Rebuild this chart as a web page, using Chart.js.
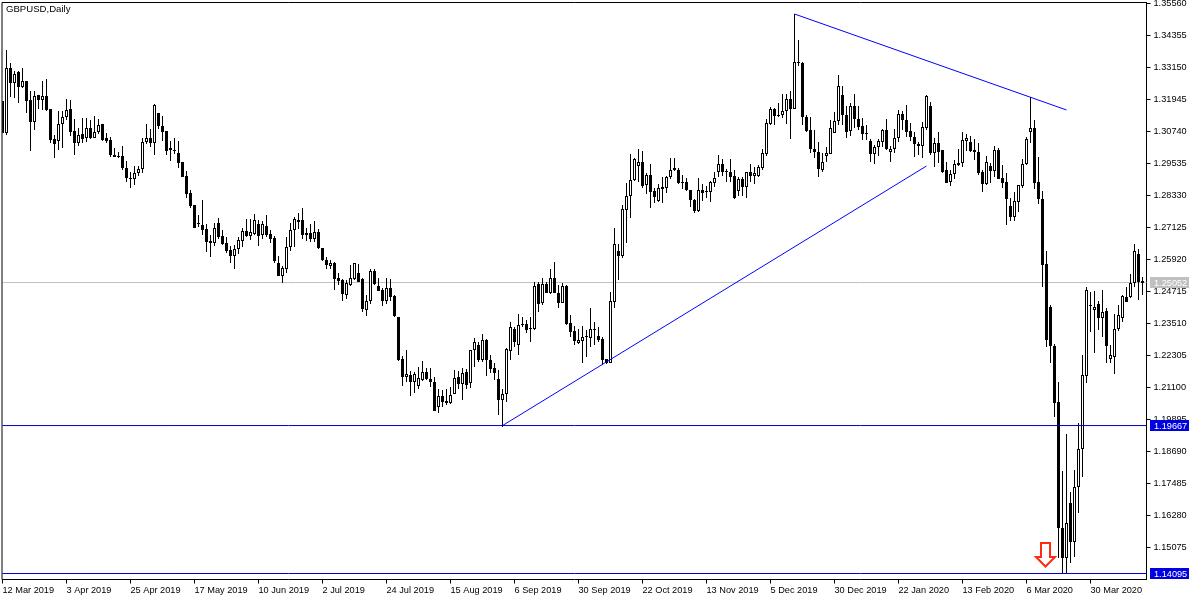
<!DOCTYPE html>
<html><head><meta charset="utf-8">
<style>html,body{margin:0;padding:0;background:#fff}canvas{display:block}</style>
<script src="https://cdn.jsdelivr.net/npm/chart.js@4"></script>
</head><body><canvas id="c" width="1200" height="600"></canvas>
<script>
const chartTitle = "GBPUSD,Daily";
const opens = [
1.3189,1.3069,1.3312,1.3258,1.3298,1.3243,1.3264,1.3192,1.3111,1.3211,
1.3194,1.3207,1.3159,1.3046,1.3037,1.3103,1.3130,1.3159,1.3076,1.3032,
1.3063,1.3051,1.3089,1.3051,1.3071,1.3101,1.3049,1.3042,1.2984,1.2980,
1.2982,1.2935,1.2899,1.2897,1.2916,1.2931,1.3034,1.3049,1.3032,1.3142,
1.3093,1.3076,1.3012,1.3004,1.2993,1.2958,1.2906,1.2842,1.2797,1.2729,
1.2722,1.2705,1.2661,1.2655,1.2729,1.2680,1.2654,1.2628,1.2605,1.2630,
1.2663,1.2699,1.2680,1.2688,1.2724,1.2685,1.2720,1.2688,1.2673,1.2577,
1.2531,1.2555,1.2640,1.2702,1.2732,1.2740,1.2691,1.2691,1.2669,1.2694,
1.2637,1.2592,1.2568,1.2577,1.2524,1.2514,1.2459,1.2497,1.2518,1.2541,
1.2518,1.2403,1.2435,1.2548,1.2492,1.2477,1.2437,1.2484,1.2454,1.2375,
1.2217,1.2150,1.2157,1.2130,1.2117,1.2138,1.2167,1.2142,1.2130,1.2037,
1.2078,1.2059,1.2051,1.2086,1.2149,1.2124,1.2168,1.2128,1.2250,1.2270,
1.2213,1.2288,1.2213,1.2182,1.2142,1.2063,1.2084,1.2248,1.2330,1.2271,
1.2344,1.2351,1.2334,1.2331,1.2499,1.2427,1.2499,1.2467,1.2522,1.2464,
1.2429,1.2492,1.2352,1.2321,1.2278,1.2286,1.2304,1.2296,1.2325,1.2304,
1.2292,1.2216,1.2203,1.2433,1.2624,1.2606,1.2779,1.2830,1.2890,1.2945,
1.2958,1.2872,1.2909,1.2850,1.2812,1.2865,1.2862,1.2901,1.2928,1.2928,
1.2884,1.2882,1.2852,1.2816,1.2773,1.2852,1.2850,1.2848,1.2879,1.2920,
1.2951,1.2925,1.2920,1.2905,1.2851,1.2897,1.2864,1.2920,1.2907,1.2907,
1.2935,1.2990,1.3103,1.3158,1.3138,1.3137,1.3152,1.3195,1.3160,1.3334,
1.3332,1.3128,1.3078,1.3010,1.2995,1.2929,1.2983,1.2990,1.3069,1.3112,
1.3211,1.3136,1.3077,1.3169,1.3120,1.3094,1.3067,1.3039,1.2988,1.3014,
1.3035,1.3079,1.2998,1.3007,1.3048,1.3139,1.3117,1.3075,1.3055,1.3027,
1.3018,1.3086,1.3170,1.2994,1.3031,1.3004,1.2929,1.2884,1.2913,1.2948,
1.2957,1.3040,1.3035,1.3004,1.2997,1.2922,1.2876,1.2944,1.2927,1.3004,
1.2899,1.2883,1.2794,1.2751,1.2810,1.2870,1.2952,1.3073,1.3086,1.2883,
1.2819,1.2575,1.2412,1.2266,1.2054,1.1580,1.1467,1.1674,1.1530,1.1734,
1.1877,1.2155,1.2418,1.2402,1.2425,1.2373,1.2397,1.2218,1.2226,1.2329,
1.2373,1.2450,1.2450,1.2502,1.2613,1.2510];
const highs = [
1.3189,1.3381,1.3333,1.3303,1.3303,1.3314,1.3264,1.3226,1.3226,1.3211,
1.3264,1.3271,1.3159,1.3061,1.3151,1.3151,1.3196,1.3192,1.3121,1.3086,
1.3125,1.3123,1.3117,1.3132,1.3120,1.3101,1.3067,1.3052,1.3012,1.2998,
1.3019,1.2963,1.2923,1.2944,1.2944,1.3048,1.3102,1.3082,1.3177,1.3142,
1.3132,1.3076,1.3038,1.3048,1.3039,1.2960,1.2925,1.2854,1.2797,1.2759,
1.2816,1.2725,1.2684,1.2728,1.2747,1.2703,1.2675,1.2643,1.2646,1.2678,
1.2712,1.2744,1.2744,1.2763,1.2741,1.2736,1.2759,1.2703,1.2680,1.2605,
1.2567,1.2678,1.2728,1.2751,1.2768,1.2785,1.2709,1.2725,1.2737,1.2706,
1.2637,1.2601,1.2592,1.2583,1.2540,1.2517,1.2514,1.2571,1.2577,1.2575,
1.2521,1.2458,1.2558,1.2555,1.2521,1.2483,1.2521,1.2517,1.2458,1.2376,
1.2229,1.2251,1.2173,1.2169,1.2188,1.2209,1.2184,1.2182,1.2148,1.2106,
1.2100,1.2104,1.2113,1.2176,1.2172,1.2182,1.2178,1.2253,1.2296,1.2282,
1.2311,1.2291,1.2232,1.2201,1.2176,1.2106,1.2260,1.2355,1.2339,1.2386,
1.2374,1.2364,1.2374,1.2508,1.2506,1.2521,1.2508,1.2558,1.2581,1.2496,
1.2502,1.2496,1.2383,1.2342,1.2332,1.2342,1.2326,1.2411,1.2358,1.2336,
1.2301,1.2219,1.2468,1.2709,1.2652,1.2799,1.2879,1.2988,1.2973,1.3010,
1.3002,1.2916,1.2951,1.2860,1.2875,1.2904,1.2907,1.2976,1.2973,1.2935,
1.2910,1.2900,1.2852,1.2818,1.2899,1.2876,1.2869,1.2889,1.2920,1.2985,
1.2969,1.2934,1.2970,1.2928,1.2904,1.2904,1.2920,1.2950,1.2941,1.2948,
1.3010,1.3120,1.3167,1.3164,1.3180,1.3214,1.3217,1.3228,1.3516,1.3419,
1.3334,1.3136,1.3130,1.3079,1.3035,1.2992,1.3014,1.3117,1.3148,1.3287,
1.3245,1.3170,1.3180,1.3215,1.3171,1.3123,1.3098,1.3046,1.3023,1.3044,
1.3083,1.3120,1.3019,1.3082,1.3155,1.3151,1.3174,1.3107,1.3073,1.3033,
1.3111,1.3212,1.3184,1.3048,1.3071,1.3004,1.2960,1.2929,1.2967,1.3007,
1.3071,1.3065,1.3057,1.3045,1.3030,1.2929,1.2982,1.2957,1.3019,1.3011,
1.2948,1.2919,1.2822,1.2848,1.2873,1.2971,1.3052,1.3203,1.3117,1.2977,
1.2850,1.2624,1.2421,1.2274,1.2132,1.1796,1.1935,1.1715,1.1800,1.1975,
1.2233,1.2490,1.2471,1.2474,1.2437,1.2477,1.2410,1.2270,1.2387,1.2421,
1.2459,1.2487,1.2537,1.2650,1.2632,1.2527];
const lows = [
1.3067,1.3062,1.3205,1.3202,1.3182,1.3238,1.3145,1.3002,1.3079,1.3159,
1.3155,1.3151,1.3030,1.2975,1.3004,1.3012,1.3117,1.3057,1.2985,1.3020,
1.3029,1.3036,1.3047,1.3048,1.3064,1.3039,1.3029,1.2979,1.2978,1.2973,
1.2928,1.2885,1.2862,1.2872,1.2906,1.2919,1.3027,1.3014,1.2985,1.3082,
1.3038,1.2985,1.2964,1.2989,1.2938,1.2901,1.2822,1.2787,1.2710,1.2713,
1.2685,1.2621,1.2601,1.2643,1.2668,1.2646,1.2618,1.2580,1.2557,1.2613,
1.2640,1.2675,1.2665,1.2684,1.2643,1.2671,1.2675,1.2653,1.2580,1.2530,
1.2505,1.2540,1.2625,1.2640,1.2707,1.2668,1.2663,1.2659,1.2659,1.2630,
1.2586,1.2555,1.2555,1.2477,1.2496,1.2437,1.2444,1.2494,1.2514,1.2507,
1.2395,1.2379,1.2424,1.2497,1.2473,1.2417,1.2424,1.2437,1.2376,1.2209,
1.2117,1.2129,1.2078,1.2090,1.2103,1.2134,1.2138,1.2113,1.2021,1.2015,
1.2037,1.2044,1.2047,1.2085,1.2103,1.2063,1.2106,1.2109,1.2188,1.2207,
1.2207,1.2154,1.2163,1.2138,1.2006,1.1960,1.2056,1.2213,1.2263,1.2232,
1.2339,1.2314,1.2282,1.2326,1.2395,1.2420,1.2464,1.2462,1.2464,1.2410,
1.2427,1.2345,1.2301,1.2271,1.2273,1.2203,1.2223,1.2263,1.2270,1.2282,
1.2194,1.2198,1.2201,1.2408,1.2514,1.2599,1.2655,1.2749,1.2887,1.2882,
1.2860,1.2838,1.2787,1.2803,1.2810,1.2806,1.2843,1.2897,1.2926,1.2875,
1.2857,1.2851,1.2791,1.2768,1.2771,1.2813,1.2822,1.2810,1.2866,1.2904,
1.2907,1.2885,1.2882,1.2821,1.2832,1.2831,1.2825,1.2885,1.2876,1.2901,
1.2929,1.2983,1.3099,1.3099,1.3130,1.3123,1.3102,1.3047,1.3158,1.3322,
1.3098,1.3073,1.2992,1.2976,1.2904,1.2923,1.2958,1.2988,1.3067,1.3098,
1.3098,1.3051,1.3057,1.3086,1.3079,1.3042,1.3042,1.2960,1.2951,1.2982,
1.3014,1.3004,1.2960,1.2992,1.3033,1.3080,1.3055,1.3040,1.2977,1.2986,
1.2976,1.3080,1.2986,1.2942,1.2957,1.2919,1.2879,1.2869,1.2894,1.2944,
1.2942,1.3002,1.2998,1.2967,1.2910,1.2848,1.2873,1.2879,1.2904,1.2894,
1.2860,1.2722,1.2738,1.2738,1.2772,1.2860,1.2949,1.3032,1.2858,1.2801,
1.2490,1.2264,1.2201,1.2000,1.1467,1.1413,1.1410,1.1448,1.1473,1.1639,
1.1774,1.2128,1.2318,1.2241,1.2327,1.2302,1.2204,1.2204,1.2161,1.2324,
1.2358,1.2431,1.2446,1.2490,1.2440,1.2458];
const closes = [
1.3069,1.3312,1.3258,1.3290,1.3243,1.3264,1.3190,1.3111,1.3206,1.3194,
1.3206,1.3155,1.3043,1.3028,1.3101,1.3127,1.3155,1.3073,1.3032,1.3059,
1.3047,1.3086,1.3051,1.3071,1.3097,1.3043,1.3039,1.2985,1.2979,1.2978,
1.2935,1.2900,1.2896,1.2916,1.2931,1.3033,1.3048,1.3032,1.3174,1.3096,
1.3073,1.3002,1.3005,1.3002,1.2956,1.2904,1.2840,1.2795,1.2712,1.2724,
1.2704,1.2659,1.2656,1.2709,1.2678,1.2651,1.2625,1.2605,1.2631,1.2665,
1.2698,1.2680,1.2695,1.2739,1.2682,1.2724,1.2685,1.2670,1.2587,1.2531,
1.2559,1.2638,1.2702,1.2744,1.2739,1.2685,1.2685,1.2669,1.2694,1.2637,
1.2590,1.2572,1.2577,1.2518,1.2511,1.2463,1.2503,1.2521,1.2577,1.2509,
1.2406,1.2436,1.2548,1.2501,1.2474,1.2437,1.2483,1.2452,1.2379,1.2213,
1.2150,1.2159,1.2132,1.2160,1.2144,1.2167,1.2142,1.2132,1.2022,1.2078,
1.2056,1.2051,1.2081,1.2144,1.2124,1.2163,1.2120,1.2250,1.2280,1.2213,
1.2288,1.2213,1.2181,1.2163,1.2064,1.2084,1.2255,1.2336,1.2281,1.2345,
1.2351,1.2327,1.2329,1.2494,1.2425,1.2499,1.2467,1.2521,1.2465,1.2428,
1.2492,1.2350,1.2319,1.2286,1.2287,1.2302,1.2299,1.2329,1.2332,1.2288,
1.2213,1.2203,1.2434,1.2649,1.2605,1.2784,1.2830,1.2890,1.2970,1.2958,
1.2869,1.2912,1.2847,1.2828,1.2860,1.2858,1.2901,1.2928,1.2935,1.2881,
1.2881,1.2855,1.2816,1.2774,1.2852,1.2843,1.2845,1.2882,1.2899,1.2950,
1.2923,1.2920,1.2904,1.2823,1.2897,1.2864,1.2920,1.2907,1.2916,1.2940,
1.2992,1.3105,1.3158,1.3133,1.3133,1.3152,1.3195,1.3160,1.3334,1.3331,
1.3130,1.3077,1.3009,1.2998,1.2934,1.2958,1.2992,1.3086,1.3112,1.3245,
1.3135,1.3073,1.3170,1.3120,1.3092,1.3064,1.3063,1.2988,1.3014,1.3038,
1.3079,1.3008,1.3008,1.3048,1.3140,1.3117,1.3071,1.3055,1.3026,1.3018,
1.3090,1.3209,1.2994,1.3030,1.2998,1.2923,1.2881,1.2914,1.2950,1.2957,
1.3041,1.3048,1.3002,1.2996,1.2919,1.2878,1.2959,1.2927,1.3003,1.2896,
1.2880,1.2821,1.2753,1.2811,1.2871,1.2950,1.3045,1.3086,1.2881,1.2819,
1.2573,1.2290,1.2268,1.2053,1.1580,1.1467,1.1599,1.1530,1.1734,1.1877,
1.2156,1.2477,1.2420,1.2415,1.2373,1.2393,1.2268,1.2231,1.2329,1.2383,
1.2455,1.2433,1.2502,1.2624,1.2509,1.2505];
const dateTicks = ["12 Mar 2019","3 Apr 2019","25 Apr 2019","17 May 2019","10 Jun 2019","2 Jul 2019","24 Jul 2019","15 Aug 2019","6 Sep 2019","30 Sep 2019","22 Oct 2019","13 Nov 2019","5 Dec 2019","30 Dec 2019","22 Jan 2020","13 Feb 2020","6 Mar 2020","30 Mar 2020"];
const barsPerDateTick = 16;
const priceTicks = [1.3556,1.34355,1.3315,1.31945,1.3074,1.29535,1.2833,1.27125,1.2592,1.24715,1.2351,1.22305,1.211,1.19895,1.1869,1.17485,1.1628,1.15075];
const lastPrice = 1.25052;
const supportHigh = 1.19667;
const supportLow = 1.14095;
const trendUpBars = [125,231];
const trendUpPrices = [1.19667,1.29441];
const trendDownBars = [198,266];
const trendDownPrices = [1.35165,1.3155];
const arrowBar = 260.75;
const arrowPrice = 1.1430;
const axisMin = 1.1387;
const axisMax = 1.35598;

const slots = closes.map((_,i)=>i); slots.push(closes.length);
const lastSlot = slots.length-1;
const wicks = lows.map((l,i)=>[l,highs[i]]);
const bodies = opens.map((o,i)=>[o,closes[i]]);
const fills = opens.map((o,i)=>closes[i]>=o?'#ffffff':'#000000');
const FONT = {family:'"Liberation Sans",Arial,sans-serif',size:9.2};
const LINE_BLUE = '#0000d0';

const pinAxis = (w,h)=>scale=>{
  if(w)scale.width=w; if(h)scale.height=h;
  scale.paddingLeft=scale.paddingRight=scale.paddingTop=scale.paddingBottom=0;
};
const line = (xs,ys,color)=>({type:'line',data:xs.map((x,i)=>({x,y:ys[i]})),borderColor:color,borderWidth:1,pointRadius:0,tension:0,order:0,parsing:{xAxisKey:'x',yAxisKey:'y'},spanGaps:true});

const extras = {
  id:'extras',
  afterDatasetsUpdate(chart){
    [0,1].forEach(d=>chart.getDatasetMeta(d).data.forEach(el=>{
      const top=Math.round(Math.min(el.y,el.base)), bot=Math.round(Math.max(el.y,el.base));
      el.y=top; el.base=Math.max(bot,top+1); el.height=el.base-el.y;
    }));
  },
  afterDraw(chart){
    const {ctx,chartArea:a,scales:{x,y}} = chart;
    ctx.save();
    ctx.strokeStyle='#000';ctx.lineWidth=1;
    ctx.beginPath();ctx.moveTo(a.left-0.5,a.bottom);ctx.lineTo(a.left-0.5,a.top);ctx.lineTo(a.right,a.top);ctx.stroke();
    ctx.font=`9.6px ${FONT.family}`;ctx.textBaseline='middle';ctx.textAlign='left';
    ctx.fillStyle='#000';ctx.fillText(chartTitle,6,9.5);
    ctx.font=`${FONT.size}px ${FONT.family}`;
    [[lastPrice,'#c0c0c0'],[supportHigh,'#0000e0'],[supportLow,'#0000e0']].forEach(([p,bg])=>{
      const py=y.getPixelForValue(p);
      ctx.fillStyle=bg;ctx.fillRect(1150,Math.round(py-5.5),39,11);
      ctx.fillStyle='#fff';ctx.fillText(p.toFixed(5),1154,py+0.5);
    });
    const tx=x.getPixelForValue(arrowBar), ty=y.getPixelForValue(arrowPrice);
    ctx.strokeStyle='#ff2a10';ctx.lineWidth=2;ctx.fillStyle='#fff';ctx.lineJoin='miter';
    ctx.beginPath();
    ctx.moveTo(tx,ty-1.5);ctx.lineTo(tx+9.5,ty-11);ctx.lineTo(tx+4.5,ty-11);ctx.lineTo(tx+4.5,ty-25);
    ctx.lineTo(tx-4.5,ty-25);ctx.lineTo(tx-4.5,ty-11);ctx.lineTo(tx-9.5,ty-11);ctx.closePath();
    ctx.fill();ctx.stroke();
    ctx.restore();
  }
};

new Chart(document.getElementById('c'),{
  type:'bar',
  data:{labels:slots,datasets:[
    {label:'body',data:bodies,backgroundColor:fills,borderColor:'#000',borderWidth:1,borderSkipped:false,barThickness:3,grouped:false,order:1,inflateAmount:0},
    {label:'wick',data:wicks,backgroundColor:'#000',borderWidth:0,barThickness:1,grouped:false,order:2,inflateAmount:0},
    Object.assign(line([0,lastSlot],[lastPrice,lastPrice],'#c0c0c0'),{order:3}),
    line([0,lastSlot],[supportHigh,supportHigh],LINE_BLUE),
    line([0,lastSlot],[supportLow,supportLow],LINE_BLUE),
    line(trendUpBars,trendUpPrices,'#0000ff'),
    line(trendDownBars,trendDownPrices,'#0000ff')
  ]},
  plugins:[extras],
  options:{
    responsive:false,animation:false,devicePixelRatio:1,
    layout:{padding:{left:2.5,top:2.5,right:0,bottom:0}},
    plugins:{legend:{display:false},tooltip:{enabled:false},title:{display:false}},
    scales:{
      x:{type:'category',offset:false,
        grid:{offset:false,drawOnChartArea:false,drawTicks:true,tickLength:4,tickColor:'#000',tickWidth:1},
        border:{display:true,color:'#000',width:1},
        afterBuildTicks:s=>{s.ticks=dateTicks.map((_,k)=>({value:k*barsPerDateTick}));},
        afterFit:pinAxis(0,20.5),
        ticks:{autoSkip:false,maxRotation:0,minRotation:0,align:'start',padding:1,color:'#000',font:FONT,
          callback:(v,i)=>dateTicks[i]}
      },
      y:{type:'linear',position:'right',min:axisMin,max:axisMax,
        grid:{drawOnChartArea:false,drawTicks:true,tickLength:4,tickColor:'#000',tickWidth:1},
        border:{display:true,color:'#000',width:1},
        afterBuildTicks:s=>{s.ticks=priceTicks.map(v=>({value:v}));},
        afterFit:pinAxis(53.5,0),
        ticks:{autoSkip:false,padding:3,color:'#000',font:FONT,callback:v=>v.toFixed(5)}
      }
    }
  }
});
</script></body></html>
